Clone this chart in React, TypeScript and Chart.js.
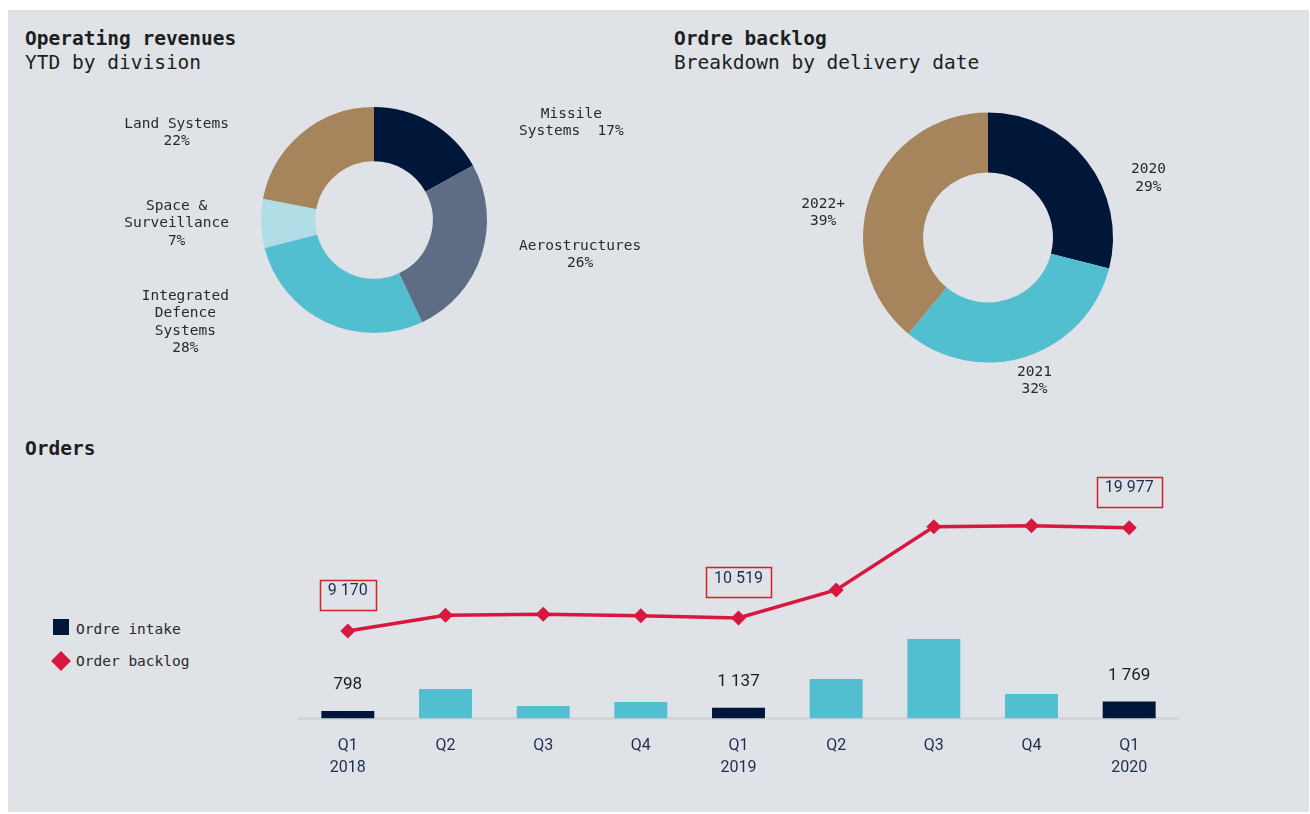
import React, { useEffect, useRef } from 'react';
import { Chart, registerables } from 'chart.js';

Chart.register(...registerables);

// ---------- data ----------
const divisionLabels = ['Missile\nSystems  ', 'Aerostructures\n', 'Integrated\nDefence\nSystems\n', 'Space &\nSurveillance\n', 'Land Systems\n'];
const divisionShares = [17, 26, 28, 7, 22];

const backlogYears = ['2020\n', '2021\n', '2022+\n'];
const backlogShares = [29, 32, 39];

const quarterLabels: (string | string[])[] = [['Q1', '2018'], 'Q2', 'Q3', 'Q4', ['Q1', '2019'], 'Q2', 'Q3', 'Q4', ['Q1', '2020']];
const orderIntake = [798, 3089, 1309, 1728, 1137, 4136, 8325, 2565, 1769];
const orderBacklog = [9170, 10806, 10911, 10764, 10519, 13455, 20084, 20188, 19977];

// ---------- styles ----------
const MONO = '"DejaVu Sans Mono", "Liberation Mono", monospace';
const SANS = 'Roboto, "Liberation Sans", sans-serif';
const NAVY = '#001739';
const SLATE = '#5e6d84';
const CYAN = '#52bfd1';
const LIGHT = '#b0dde6';
const BROWN = '#a6845c';
const RED = '#d8173f';
const BOX_RED = '#d42027';
const PANEL = '#dfe2e6';
const TEXT = '#2a2a2a';
const TICK = '#1f2e50';

const fmt = (v: number) => String(v).replace(/\B(?=(\d{3})+(?!\d))/g, ' ');

const doughnutLabels = {
  id: 'doughnutLabels',
  afterDatasetsDraw(chart: any, _args: any, opts: any) {
    const { ctx } = chart;
    const meta = chart.getDatasetMeta(0);
    const labels = chart.data.labels;
    const values = chart.data.datasets[0].data;
    const lh = 17.5;
    ctx.save();
    ctx.font = `14.5px ${MONO}`;
    ctx.fillStyle = TEXT;
    ctx.textAlign = 'center';
    ctx.textBaseline = 'middle';
    meta.data.forEach((arc: any, i: number) => {
      const p = arc.getProps(['x', 'y', 'startAngle', 'endAngle', 'outerRadius'], true);
      const mid = (p.startAngle + p.endAngle) / 2;
      const c = Math.cos(mid);
      const s = Math.sin(mid);
      const lines = (labels[i] + values[i] + '%').split('\n');
      const w = Math.max(...lines.map((l: string) => ctx.measureText(l).width));
      const h = lines.length * lh;
      let x: number;
      let y: number;
      if (Math.abs(c) >= 0.35) {
        y = p.y + s * p.outerRadius;
        if (opts.vAlign === 'top') y += h / 2;
        x = p.x + Math.sign(c) * (p.outerRadius + opts.gap + w / 2);
      } else {
        const r = p.outerRadius + opts.gap2;
        x = p.x + c * r + (c * w) / 2;
        y = p.y + s * r + (s * h) / 2;
      }
      lines.forEach((l: string, k: number) => ctx.fillText(l, x, y - h / 2 + lh * (k + 0.5)));
    });
    ctx.restore();
  },
};

const ordersLabels = {
  id: 'ordersLabels',
  afterDatasetsDraw(chart: any) {
    const { ctx } = chart;
    const barMeta = chart.getDatasetMeta(0);
    const lineMeta = chart.getDatasetMeta(1);
    ctx.save();
    ctx.textAlign = 'center';
    ctx.textBaseline = 'middle';
    quarterLabels.forEach((lab, i) => {
      if (!Array.isArray(lab)) return;
      const bar = barMeta.data[i];
      ctx.font = `17px ${SANS}`;
      ctx.fillStyle = '#1e1e1e';
      ctx.fillText(fmt(orderIntake[i]), bar.x, bar.y - 26);

      const pt = lineMeta.data[i];
      ctx.font = `16px ${SANS}`;
      const t = fmt(orderBacklog[i]);
      const w = ctx.measureText(t).width + 16;
      ctx.strokeStyle = BOX_RED;
      ctx.lineWidth = 1.5;
      ctx.strokeRect(Math.round(pt.x - w / 2) + 0.5, Math.round(pt.y - 51) + 0.5, Math.round(w), 30);
      ctx.fillStyle = TICK;
      ctx.fillText(t, pt.x, pt.y - 39.5);
    });
    ctx.restore();
  },
};

function useChart(ref: React.RefObject<HTMLCanvasElement | null>, make: (c: HTMLCanvasElement) => Chart) {
  useEffect(() => {
    if (!ref.current) return;
    const ch = make(ref.current);
    return () => ch.destroy();
  }, []);
}

export default function App() {
  const d1 = useRef<HTMLCanvasElement>(null);
  const d2 = useRef<HTMLCanvasElement>(null);
  const ord = useRef<HTMLCanvasElement>(null);

  useChart(d1, (c) =>
    new Chart(c, {
      type: 'doughnut',
      data: {
        labels: divisionLabels,
        datasets: [{ data: divisionShares, backgroundColor: [NAVY, SLATE, CYAN, LIGHT, BROWN], borderWidth: 0 }],
      },
      options: {
        animation: false,
        responsive: false,
        cutout: '52%',
        layout: { padding: { left: 221, right: 173, top: 17, bottom: 67 } },
        plugins: { legend: { display: false }, tooltip: { enabled: false }, doughnutLabels: { gap: 32, gap2: 12, vAlign: 'middle' } } as any,
      },
      plugins: [doughnutLabels],
    })
  );

  useChart(d2, (c) =>
    new Chart(c, {
      type: 'doughnut',
      data: {
        labels: backlogYears,
        datasets: [{ data: backlogShares, backgroundColor: [NAVY, CYAN, BROWN], borderWidth: 0 }],
      },
      options: {
        animation: false,
        responsive: false,
        cutout: '52%',
        layout: { padding: { left: 163, right: 187, top: 22.5, bottom: 57.5 } },
        plugins: { legend: { display: false }, tooltip: { enabled: false }, doughnutLabels: { gap: 18, gap2: 8, vAlign: 'top' } } as any,
      },
      plugins: [doughnutLabels],
    })
  );

  useChart(ord, (c) =>
    new Chart(c, {
      type: 'bar',
      data: {
        labels: quarterLabels,
        datasets: [
          {
            type: 'bar',
            label: 'Ordre intake',
            data: orderIntake,
            backgroundColor: quarterLabels.map((l) => (Array.isArray(l) ? NAVY : CYAN)),
            barPercentage: 0.542,
            categoryPercentage: 1,
            order: 1,
          },
          {
            type: 'line',
            label: 'Order backlog',
            data: orderBacklog,
            borderColor: RED,
            backgroundColor: RED,
            borderWidth: 3.5,
            pointStyle: 'rectRot',
            pointRadius: 7.5,
            pointBorderWidth: 0,
            pointBackgroundColor: RED,
            tension: 0,
            order: 0,
          } as any,
        ],
      },
      options: {
        animation: false,
        responsive: false,
        layout: { padding: { left: 9, right: 12, top: 43.4, bottom: 0 } },
        plugins: { legend: { display: false }, tooltip: { enabled: false } },
        scales: {
          x: {
            grid: { display: false, drawTicks: false },
            border: { display: true, color: '#d5d6d8', width: 3 },
            ticks: {
              color: TICK,
              font: { family: SANS, size: 16, lineHeight: 1.35 },
              padding: 17,
              maxRotation: 0,
              autoSkip: false,
            },
            afterFit: (s: any) => {
              s.height = 76.5;
            },
          },
          y: { display: false, min: 0, max: 22000 },
        },
      },
      plugins: [ordersLabels],
    })
  );

  const titleStyle: React.CSSProperties = {
    position: 'absolute',
    fontFamily: MONO,
    fontSize: 19.5,
    lineHeight: '24px',
    color: '#1e1e1e',
    whiteSpace: 'pre',
    margin: 0,
  };
  const legendText: React.CSSProperties = {
    position: 'absolute',
    fontFamily: MONO,
    fontSize: 14.5,
    lineHeight: '18px',
    color: TEXT,
    whiteSpace: 'pre',
  };

  return (
    <div style={{ position: 'absolute', left: 0, top: 0, width: 1310, height: 814, background: '#fff', overflow: 'hidden' }}>
      <div style={{ position: 'absolute', left: 8, top: 10, width: 1301, height: 802, background: PANEL }} />

      <div style={{ ...titleStyle, left: 25, top: 27 }}>
        <div style={{ fontWeight: 'bold' }}>Operating revenues</div>
        <div>YTD by division</div>
      </div>
      <div style={{ ...titleStyle, left: 674, top: 27 }}>
        <div style={{ fontWeight: 'bold' }}>Ordre backlog</div>
        <div>Breakdown by delivery date</div>
      </div>
      <div style={{ ...titleStyle, left: 25, top: 437 }}>
        <div style={{ fontWeight: 'bold' }}>Orders</div>
      </div>

      <canvas ref={d1} width={620} height={310} style={{ position: 'absolute', left: 40, top: 90 }} />
      <canvas ref={d2} width={600} height={330} style={{ position: 'absolute', left: 700, top: 90 }} />
      <canvas ref={ord} width={900} height={330} style={{ position: 'absolute', left: 290, top: 465 }} />

      <div style={{ position: 'absolute', left: 53, top: 619, width: 16, height: 16, background: NAVY }} />
      <div style={{ ...legendText, left: 76, top: 620 }}>Ordre intake</div>
      <div
        style={{
          position: 'absolute',
          left: 54,
          top: 654,
          width: 14,
          height: 14,
          background: RED,
          transform: 'rotate(45deg)',
        }}
      />
      <div style={{ ...legendText, left: 76, top: 652 }}>Order backlog</div>
    </div>
  );
}
